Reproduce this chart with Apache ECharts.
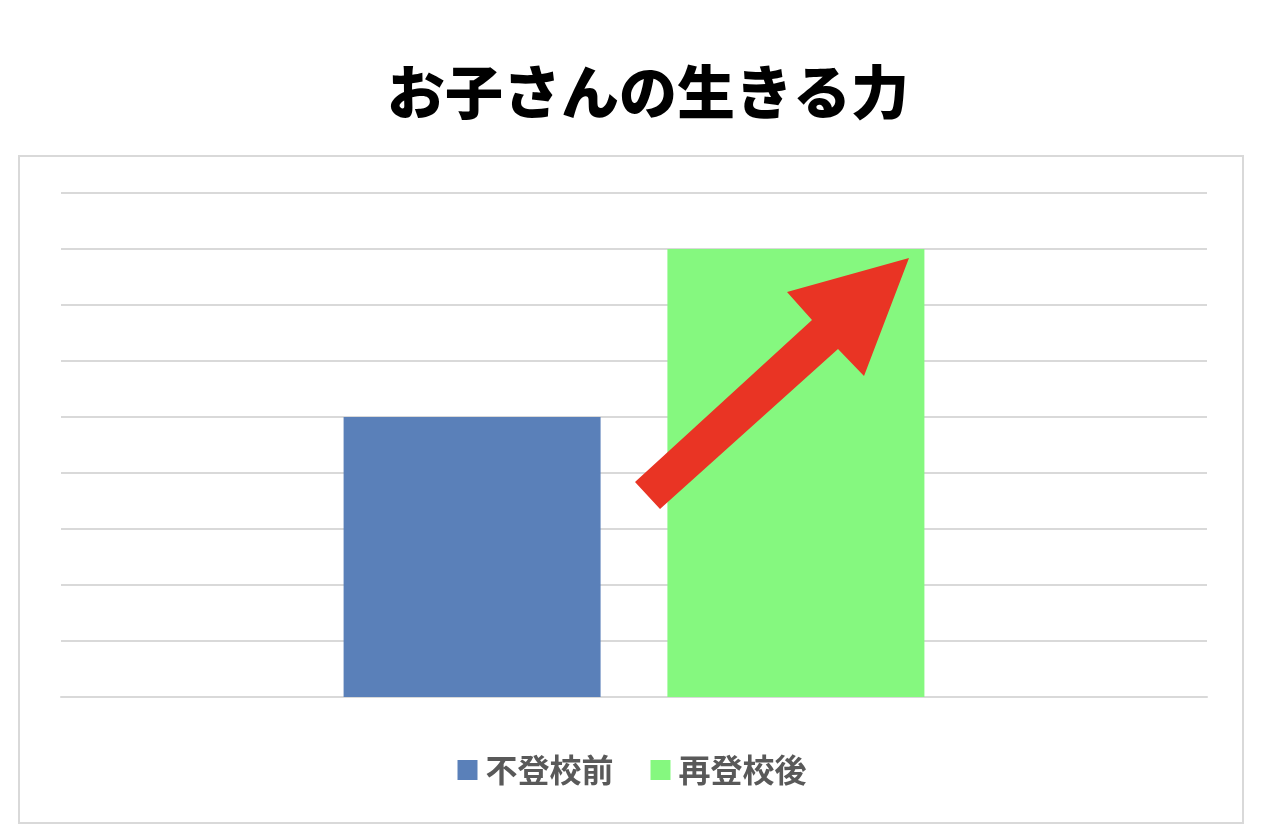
<!DOCTYPE html>
<html>
<head>
<meta charset="utf-8">
<script src="https://cdn.jsdelivr.net/npm/echarts@6/dist/echarts.min.js"></script>
<style>
html,body{margin:0;padding:0;background:#fff;}
#main{width:1264px;height:840px;}
</style>
</head>
<body>
<div id="main"></div>
<script>
const categories = [''];
const seriesNames = ['不登校前', '再登校後'];
const beforeValues = [5];
const afterValues = [8];
const colors = ['#5A80B9', '#85F87F'];
const titleText = 'お子さんの生きる力';

const chart = echarts.init(document.getElementById('main'));
const FONT = '"Noto Sans CJK JP", "Noto Sans", sans-serif';

chart.setOption({
  backgroundColor: '#ffffff',
  animation: false,
  title: {
    text: titleText,
    left: 643,
    textAlign: 'center',
    top: 58,
    textStyle: { fontFamily: FONT, fontSize: 58, fontWeight: 900, color: '#000000' }
  },
  legend: {
    data: seriesNames,
    left: 'center',
    top: 749,
    itemWidth: 20,
    itemHeight: 20,
    itemGap: 37,
    icon: 'rect',
    textStyle: { fontFamily: FONT, fontSize: 32, fontWeight: 'bold', color: '#595959', padding: [0, 0, 0, 3] }
  },
  grid: { left: 61, right: 57, top: 193, bottom: 143, containLabel: false },
  xAxis: {
    type: 'category',
    data: categories,
    axisLine: { show: true, lineStyle: { color: '#d9d9d9', width: 2 } },
    axisTick: { show: false },
    axisLabel: { show: false }
  },
  yAxis: {
    type: 'value',
    min: 0,
    max: 9,
    interval: 1,
    axisLine: { show: false },
    axisTick: { show: false },
    axisLabel: { show: false },
    splitLine: { lineStyle: { color: '#d9d9d9', width: 2 } }
  },
  series: [
    { name: seriesNames[0], type: 'bar', data: beforeValues, barWidth: 257, barGap: '26%', itemStyle: { color: colors[0] } },
    { name: seriesNames[1], type: 'bar', data: afterValues, barWidth: 257, barGap: '26%', itemStyle: { color: colors[1] } }
  ],
  graphic: [
    {
      type: 'rect',
      shape: { x: 19, y: 156, width: 1224, height: 667 },
      style: { fill: 'none', stroke: '#d9d9d9', lineWidth: 2 },
      silent: true,
      z: 0
    },
    {
      type: 'polygon',
      shape: { points: [[635, 482], [812, 320], [787, 292], [909, 258], [864, 376], [838, 349], [660, 509]] },
      style: { fill: '#E93424' },
      silent: true,
      z: 100
    }
  ]
});
</script>
</body>
</html>
